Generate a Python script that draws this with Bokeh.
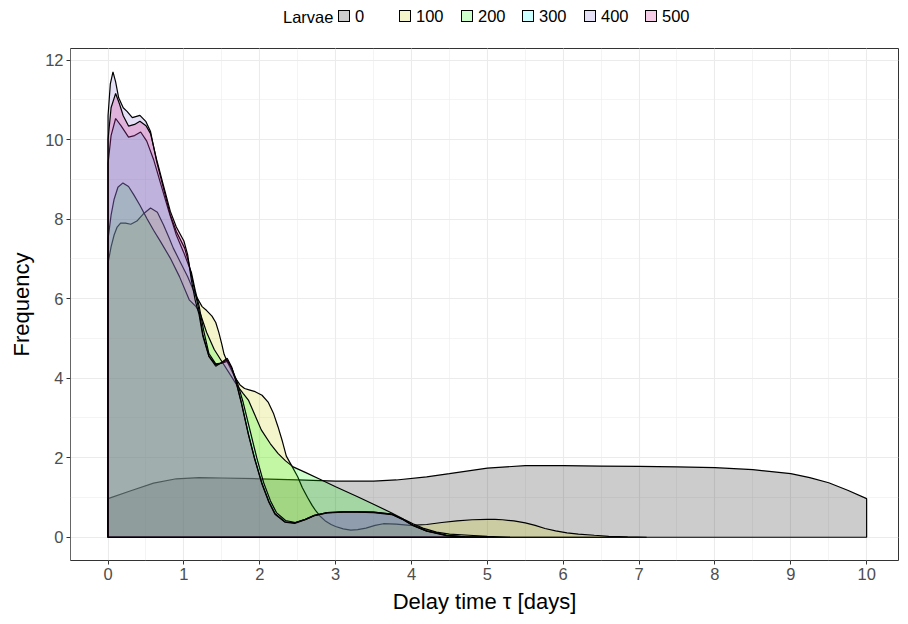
from bokeh.plotting import figure
from bokeh.layouts import column
from bokeh.models import Range1d, FixedTicker, Div
from bokeh.embed import file_html
from bokeh.resources import INLINE

larvae = ["0", "100", "200", "300", "400", "500"]
base_colors = ["#000000", "#CDCD00", "#00FF00", "#00FFFF", "#7D64CD", "#CD007D"]

x_tick_values = list(range(0, 11))
y_tick_values = [0, 2, 4, 6, 8, 10, 12]

x0 = [0, 0.3, 0.6, 0.9, 1.2, 1.5, 2.0, 2.5, 3.0, 3.5, 3.8, 4.2, 4.5, 5.0, 5.5, 6.0, 6.5, 7.0, 7.5, 8.0, 8.5, 9.0, 9.25, 9.5, 9.75, 10.0]
y0 = [0.97, 1.17, 1.36, 1.47, 1.5, 1.49, 1.47, 1.44, 1.41, 1.41, 1.44, 1.52, 1.6, 1.74, 1.8, 1.8, 1.79, 1.78, 1.77, 1.75, 1.7, 1.6, 1.5, 1.37, 1.18, 0.97]

x100 = [0, 0.04, 0.08, 0.12, 0.165, 0.23, 0.3, 0.38, 0.46, 0.56, 0.65, 0.73, 0.8, 0.86, 0.95, 1.05, 1.15, 1.24, 1.3, 1.37, 1.42, 1.46, 1.5, 1.53, 1.57, 1.6, 1.67, 1.74, 1.8, 1.87, 1.94, 2.03, 2.11, 2.18, 2.24, 2.3, 2.35, 2.42, 2.5, 2.56, 2.63, 2.69, 2.74, 2.8, 2.87, 2.94, 3.0, 3.1, 3.2, 3.29, 3.4, 3.52, 3.63, 3.8, 3.98, 4.2, 4.4, 4.6, 4.8, 5.0, 5.1, 5.2, 5.35, 5.5, 5.63, 5.76, 5.9, 6.05, 6.2, 6.41, 6.6, 6.85, 7.1]
y100 = [6.9, 7.3, 7.6, 7.8, 7.9, 7.9, 7.87, 7.95, 8.12, 8.28, 8.17, 7.86, 7.55, 7.27, 6.93, 6.55, 6.1, 5.8, 5.7, 5.56, 5.4, 5.15, 4.85, 4.6, 4.42, 4.3, 4.03, 3.83, 3.74, 3.7, 3.66, 3.57, 3.4, 3.12, 2.78, 2.4, 2.04, 1.8, 1.52, 1.25, 1.0, 0.8, 0.66, 0.52, 0.4, 0.32, 0.27, 0.21, 0.18, 0.19, 0.23, 0.3, 0.34, 0.33, 0.3, 0.32, 0.37, 0.41, 0.44, 0.45, 0.45, 0.44, 0.41, 0.36, 0.3, 0.22, 0.16, 0.11, 0.08, 0.05, 0.025, 0.01, 0.0]

x200 = [0, 0.04, 0.08, 0.13, 0.196, 0.27, 0.34, 0.42, 0.51, 0.6, 0.69, 0.82, 0.94, 1.07, 1.16, 1.22, 1.3, 1.4, 1.5, 1.6, 1.7, 1.78, 1.85, 1.93, 2.02, 2.14, 2.24, 2.34, 2.44, 2.6, 2.8, 3.0, 3.29, 3.5, 3.74, 3.9, 4.02, 4.15, 4.33, 4.5, 4.76, 5.0, 5.3]
y200 = [7.5, 8.1, 8.5, 8.8, 8.91, 8.82, 8.61, 8.35, 8.02, 7.72, 7.44, 7.02, 6.56, 5.97, 5.8, 5.6, 5.15, 4.72, 4.42, 4.12, 3.82, 3.62, 3.45, 3.1, 2.7, 2.35, 2.11, 1.92, 1.77, 1.63, 1.45, 1.27, 1.02, 0.83, 0.61, 0.45, 0.34, 0.23, 0.13, 0.08, 0.05, 0.02, 0.0]

x300 = [0, 0.04, 0.1, 0.17, 0.27, 0.35, 0.43, 0.51, 0.6, 0.7, 0.8, 0.9, 1.0, 1.1, 1.15, 1.2, 1.26, 1.33, 1.42, 1.5, 1.57, 1.63, 1.7, 1.78, 1.87, 1.96, 2.05, 2.14, 2.22, 2.34, 2.47, 2.6, 2.72, 2.89, 3.1, 3.29, 3.5, 3.74, 3.88, 4.02, 4.2, 4.46, 4.7, 5.0]
y300 = [9.4, 10.1, 10.53, 10.35, 10.06, 10.1, 10.19, 9.96, 9.5, 8.85, 8.2, 7.6, 7.15, 6.65, 6.2, 5.82, 5.2, 4.62, 4.36, 4.38, 4.42, 4.25, 3.92, 3.4, 2.7, 2.0, 1.38, 0.92, 0.62, 0.42, 0.37, 0.45, 0.55, 0.62, 0.64, 0.64, 0.63, 0.58, 0.46, 0.3, 0.16, 0.05, 0.01, 0.0]

x400 = [0, 0.03, 0.065, 0.1, 0.14, 0.2, 0.25, 0.32, 0.42, 0.5, 0.56, 0.64, 0.73, 0.82, 0.9, 1.01, 1.06, 1.13, 1.2, 1.25, 1.33, 1.42, 1.5, 1.57, 1.63, 1.68, 1.76, 1.85, 1.93, 2.03, 2.12, 2.2, 2.33, 2.46, 2.6, 2.72, 2.89, 3.1, 3.29, 3.5, 3.74, 3.88, 4.02, 4.2, 4.46, 4.7, 5.0]
y400 = [10.6, 11.4, 11.7, 11.45, 11.05, 10.8, 10.71, 10.55, 10.61, 10.45, 10.2, 9.45, 8.78, 8.11, 7.69, 7.27, 6.93, 6.31, 5.7, 5.1, 4.55, 4.34, 4.38, 4.46, 4.25, 3.96, 3.37, 2.6, 2.0, 1.35, 0.9, 0.6, 0.39, 0.36, 0.45, 0.55, 0.62, 0.64, 0.64, 0.63, 0.58, 0.46, 0.3, 0.16, 0.05, 0.01, 0.0]

x500 = [0, 0.04, 0.1, 0.15, 0.2, 0.27, 0.35, 0.42, 0.5, 0.56, 0.64, 0.73, 0.82, 0.9, 1.0, 1.05, 1.1, 1.15, 1.2, 1.25, 1.33, 1.42, 1.5, 1.57, 1.63, 1.68, 1.76, 1.85, 1.93, 2.03, 2.12, 2.2, 2.33, 2.46, 2.6, 2.72, 2.89, 3.1, 3.29, 3.5, 3.74, 3.88, 4.02, 4.2, 4.46, 4.7, 5.0]
y500 = [10.0, 10.8, 11.16, 10.9, 10.6, 10.34, 10.38, 10.46, 10.35, 10.15, 9.5, 8.85, 8.2, 7.8, 7.45, 7.1, 6.45, 5.95, 5.6, 5.05, 4.55, 4.3, 4.4, 4.5, 4.28, 3.97, 3.35, 2.58, 1.98, 1.33, 0.88, 0.58, 0.38, 0.35, 0.44, 0.54, 0.61, 0.63, 0.63, 0.62, 0.57, 0.45, 0.29, 0.15, 0.04, 0.01, 0.0]

series_x = [x0, x100, x200, x300, x400, x500]
series_y = [y0, y100, y200, y300, y400, y500]

FONT = "Liberation Sans"
GRID = "#EBEBEB"
W = 900
FILL_ALPHA = 0.2

# ---------------- main panel ----------------
p = figure(width=W, height=576, output_backend="svg", toolbar_location=None,
           x_range=Range1d(-0.495, 10.42), y_range=Range1d(-0.585, 12.29),
           min_border_left=70, min_border_right=2, min_border_top=8, min_border_bottom=56,
           background_fill_color="white", border_fill_color="white")
p.outline_line_color = "#333333"
p.outline_line_width = 1

for col, xs, ys in zip(base_colors, series_x, series_y):
    px = [xs[0]] + list(xs) + [xs[-1]]
    py = [0] + list(ys) + [0]
    p.patch(px, py, fill_color=col, fill_alpha=FILL_ALPHA, line_color="black", line_width=1.2)

p.xaxis.ticker = FixedTicker(ticks=x_tick_values, minor_ticks=[i * 0.5 for i in range(-1, 22)])
p.yaxis.ticker = FixedTicker(ticks=y_tick_values, minor_ticks=list(range(-1, 14, 2)))

for g in (p.xgrid, p.ygrid):
    g.grid_line_color = GRID
    g.grid_line_width = 1.1
    g.minor_grid_line_color = GRID
    g.minor_grid_line_width = 0.55

for ax in (p.xaxis, p.yaxis):
    ax.axis_line_color = None
    ax.major_tick_line_color = "#333333"
    ax.major_tick_in = 0
    ax.major_tick_out = 4
    ax.minor_tick_line_color = None
    ax.major_label_text_font = FONT
    ax.major_label_text_font_size = "16.5px"
    ax.major_label_text_color = "#4D4D4D"
    ax.axis_label_text_font = FONT
    ax.axis_label_text_font_size = "22px"
    ax.axis_label_text_font_style = "normal"
    ax.axis_label_text_color = "black"
    ax.major_label_standoff = 3

p.xaxis.axis_label = "Delay time τ [days]"
p.yaxis.axis_label = "Frequency"
p.xaxis.axis_label_standoff = 6
p.yaxis.axis_label_standoff = 8


# ---------------- legend strip on top (HTML) ----------------
def rgba(hex_color, a):
    h = hex_color.lstrip("#")
    r, g, b = int(h[0:2], 16), int(h[2:4], 16), int(h[4:6], 16)
    return f"rgba({r},{g},{b},{a})"


parts = [f'<div style="position:relative;width:{W}px;height:40px;font-family:\'{FONT}\';'
         f'font-size:16.5px;color:black;line-height:20px;">',
         '<span style="position:absolute;left:283px;top:7px;white-space:nowrap;">Larvae</span>']
for i, (lab, col) in enumerate(zip(larvae, base_colors)):
    gx = 338 + round(i * 61.4)
    parts.append(f'<span style="position:absolute;left:{gx}px;top:10px;width:12px;height:12px;'
                 f'box-sizing:border-box;border:1px solid black;background:{rgba(col, FILL_ALPHA)};"></span>')
    parts.append(f'<span style="position:absolute;left:{gx + 17}px;top:6px;white-space:nowrap;">{lab}</span>')
parts.append('</div>')

leg = Div(text="".join(parts), width=W, height=40, margin=0)

layout = column(leg, p, spacing=0)
open("out.html", "w").write(file_html(layout, INLINE))
